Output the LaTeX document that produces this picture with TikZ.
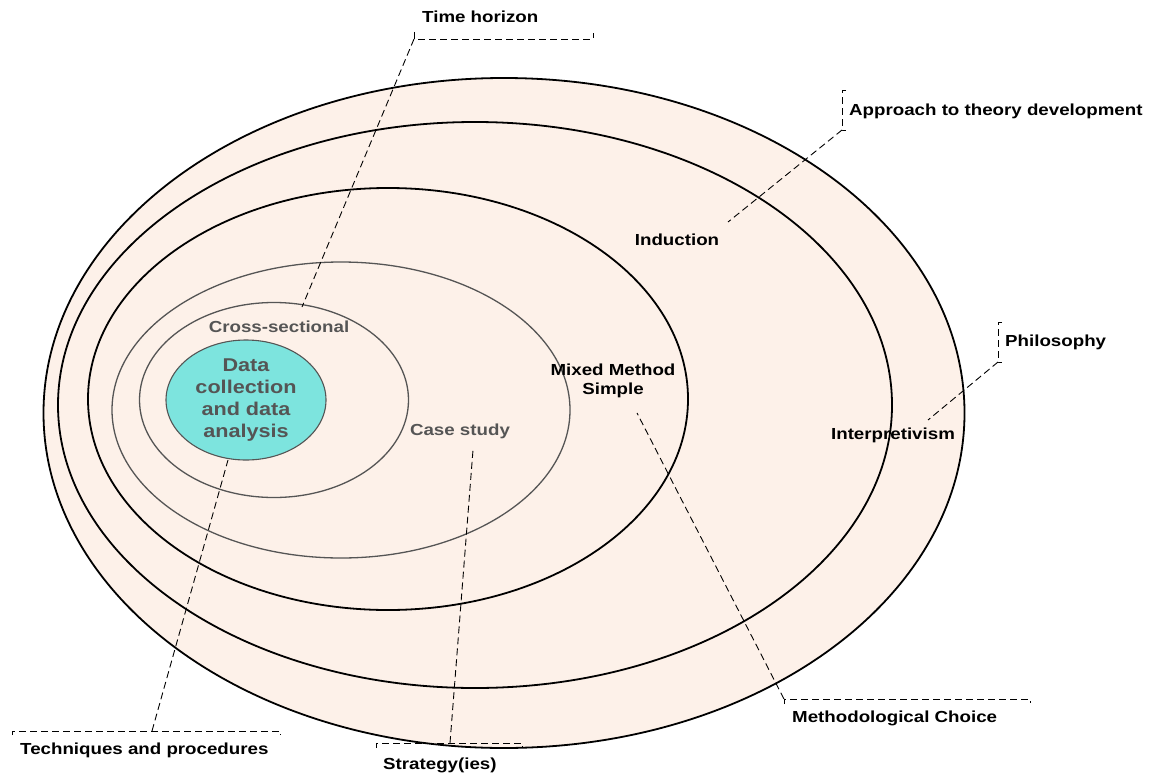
\documentclass[tikz,border=0pt]{standalone}
\usepackage{fontspec}
\usetikzlibrary{shapes.geometric}
\newfontfamily\labfont[FakeStretch=1.17]{Liberation Sans}
\definecolor{peach}{RGB}{253,241,233}
\definecolor{coreblue}{RGB}{125,228,222}
\definecolor{ringgray}{RGB}{85,85,85}
\definecolor{textgray}{RGB}{85,85,85}
\begin{document}
\begin{tikzpicture}[x=1pt,y=-1pt,
  layer/.style={ellipse,draw=black,line width=1.8pt,fill=peach,inner sep=0pt},
  inner/.style={ellipse,draw=ringgray,line width=1.3pt,fill=peach,inner sep=0pt},
  core/.style={ellipse,draw=ringgray,line width=1.1pt,fill=coreblue,inner sep=0pt},
  lab/.style={font=\labfont\fontsize{16}{19}\selectfont\bfseries,inner sep=0pt,align=center},
  glab/.style={lab,text=textgray},
  leader/.style={draw=black,line width=0.9pt,dash pattern=on 7pt off 4pt},
  bracket/.style={leader}]
\useasboundingbox (0,0) rectangle (1155,776);

% nested layers, outermost first
\node[layer,minimum width=921pt,minimum height=670pt] (ephil) at (504,413) {};
\node[layer,minimum width=834pt,minimum height=566pt] (eappr) at (475,405) {};
\node[layer,minimum width=600pt,minimum height=422pt] (echoice) at (388,399) {};
\node[inner,minimum width=458pt,minimum height=296pt] (estrat) at (341,410) {};
\node[inner,minimum width=269pt,minimum height=195pt] (etime) at (274,400) {};
\node[core,minimum width=160pt,minimum height=120pt] (etech) at (246,400) {};

% texts inside the layers
\node[glab,font=\labfont\fontsize{18.5}{22}\selectfont\bfseries] (tcore) at (246,400) {Data\\collection\\and data\\analysis};
\node[glab] (tcross) at (279,327) {Cross-sectional};
\node[glab] (tcase) at (460,431) {Case study};
\node[lab] (tmixed) at (613,381) {Mixed Method\\Simple};
\node[lab] (tind) at (677,240) {Induction};
\node[lab] (tint) at (893,435) {Interpretivism};

% outside captions
\node[lab,anchor=west] (ctime) at (422,17) {Time horizon};
\node[lab,anchor=west] (cappr) at (849,111) {Approach to theory development};
\node[lab,anchor=west] (cphil) at (1005,342) {Philosophy};
\node[lab,anchor=west] (ctech) at (20,750) {Techniques and procedures};
\node[lab,anchor=west] (cstrat) at (383,765) {Strategy(ies)};
\node[lab,anchor=west] (cmeth) at (792,718) {Methodological Choice};

% bracket corners and leader ends
\coordinate (bt1) at (414,32); \coordinate (bt2) at (414,39);
\coordinate (bt3) at (593,39); \coordinate (bt4) at (593,33);
\coordinate (ltime) at (302,307);

\coordinate (ba1) at (846,90); \coordinate (ba2) at (842,90);
\coordinate (ba3) at (842,130); \coordinate (ba4) at (846,130);
\coordinate (lappr) at (728,222);

\coordinate (bp1) at (1002,322); \coordinate (bp2) at (998,322);
\coordinate (bp3) at (998,362); \coordinate (bp4) at (1002,362);
\coordinate (lphil) at (928,420);

\coordinate (bq1) at (12,735); \coordinate (bq2) at (12,731);
\coordinate (bq3) at (280,731); \coordinate (bq4) at (280,735);
\coordinate (bqm) at (152,731);
\coordinate (ltech) at (228,460);

\coordinate (bs1) at (376,748); \coordinate (bs2) at (376,743);
\coordinate (bs3) at (522,743); \coordinate (bs4) at (522,748);
\coordinate (bsm) at (450,743);
\coordinate (lstrat) at (473,450);

\coordinate (bm1) at (784,704); \coordinate (bm2) at (784,699);
\coordinate (bm3) at (1030,699); \coordinate (bm4) at (1030,703);
\coordinate (lmeth) at (637,413);

% brackets
\draw[bracket] (bt1) -- (bt2) -- (bt3) -- (bt4);
\draw[bracket] (ba1) -- (ba2) -- (ba3) -- (ba4);
\draw[bracket] (bp1) -- (bp2) -- (bp3) -- (bp4);
\draw[bracket] (bq1) -- (bq2) -- (bq3) -- (bq4);
\draw[bracket] (bs1) -- (bs2) -- (bs3) -- (bs4);
\draw[bracket] (bm1) -- (bm2) -- (bm3) -- (bm4);

% leaders
\draw[leader] (bt2) -- (ltime);
\draw[leader] (ba3) -- (lappr);
\draw[leader] (bp3) -- (lphil);
\draw[leader] (bqm) -- (ltech);
\draw[leader] (bsm) -- (lstrat);
\draw[leader] (bm2) -- (lmeth);
\end{tikzpicture}
\end{document}
